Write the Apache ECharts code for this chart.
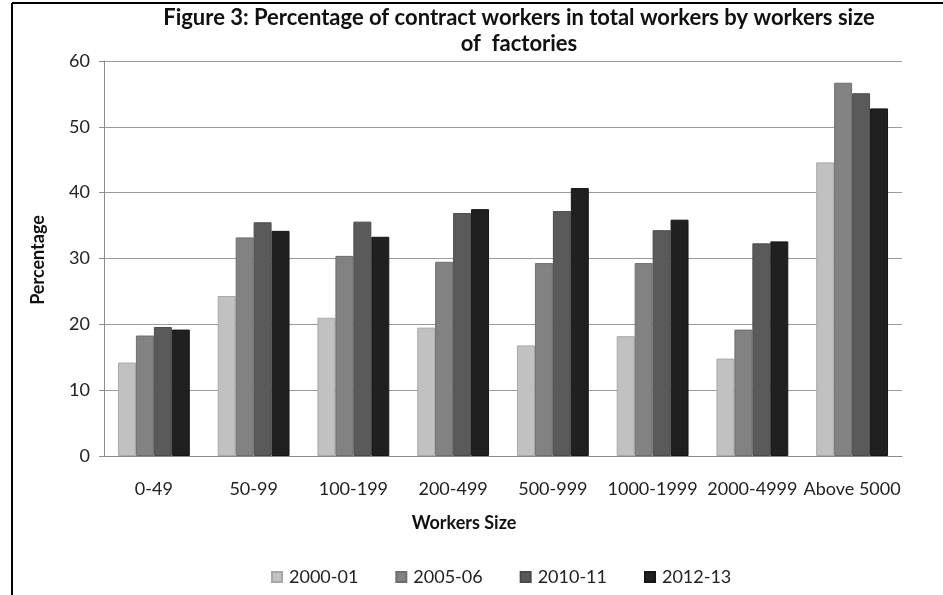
<!DOCTYPE html>
<html>
<head>
<meta charset="utf-8">
<script src="https://cdn.jsdelivr.net/npm/echarts@6/dist/echarts.min.js"></script>
<style>
html,body{margin:0;padding:0;background:#fff;}
#chart{width:943px;height:595px;}
</style>
</head>
<body>
<div id="chart"></div>
<script>
const categories = ['0-49','50-99','100-199','200-499','500-999','1000-1999','2000-4999','Above 5000'];
const seriesNames = ['2000-01','2005-06','2010-11','2012-13'];
const s2000_01 = [14.2, 24.3, 21.0, 19.5, 16.8, 18.2, 14.8, 44.6];
const s2005_06 = [18.3, 33.2, 30.4, 29.5, 29.3, 29.3, 19.2, 56.7];
const s2010_11 = [19.6, 35.5, 35.6, 36.9, 37.2, 34.3, 32.3, 55.1];
const s2012_13 = [19.2, 34.2, 33.3, 37.5, 40.7, 35.9, 32.6, 52.8];
const yTicks = [0, 10, 20, 30, 40, 50, 60];

const colors = ['#c1c1c1', '#828282', '#5a5a5a', '#202020'];
const borders = ['#a8a8a8', '#6e6e6e', '#4a4a4a', '#151515'];
const FONT = 'Lato';
const allData = [s2000_01, s2005_06, s2010_11, s2012_13];

const chart = echarts.init(document.getElementById('chart'), null, {renderer: 'canvas'});
chart.setOption({
  backgroundColor: '#fff',
  animation: false,
  color: colors,
  textStyle: {fontFamily: FONT, color: '#222'},
  grid: {left: 104, right: 41, top: 61, bottom: 139, containLabel: false},
  legend: {
    data: seriesNames,
    left: 266, top: 563,
    icon: 'rect', itemWidth: 10, itemHeight: 10, itemGap: 37,
    textStyle: {fontFamily: FONT, fontSize: 18, color: '#222', padding: [0,0,0,2]}
  },
  xAxis: {
    type: 'category',
    data: categories,
    axisLine: {lineStyle: {color: '#8c8c8c', width: 1}},
    axisTick: {show: false},
    axisLabel: {fontFamily: FONT, fontSize: 18, color: '#222', margin: 24, interval: 0}
  },
  yAxis: {
    type: 'value',
    min: yTicks[0], max: yTicks[yTicks.length-1], interval: 10,
    axisLine: {show: true, lineStyle: {color: '#8c8c8c', width: 1}},
    axisTick: {show: true, inside: false, length: 5, lineStyle: {color: '#8c8c8c'}},
    splitLine: {lineStyle: {color: '#9a9a9a', width: 1}},
    axisLabel: {fontFamily: FONT, fontSize: 18, color: '#222', margin: 14}
  },
  series: seriesNames.map((n, i) => ({
    name: n,
    type: 'bar',
    data: allData[i],
    barGap: '0%',
    barCategoryGap: '28%',
    itemStyle: {color: colors[i], borderColor: borders[i], borderWidth: 1}
  })),
  graphic: [
    {type: 'line', shape: {x1: 12, y1: 3, x2: 943, y2: 3}, style: {stroke: '#000', lineWidth: 2}},
    {type: 'line', shape: {x1: 12, y1: 3, x2: 12, y2: 595}, style: {stroke: '#000', lineWidth: 2}},
    {type: 'text', x: 519, y: 18, style: {text: 'Figure 3: Percentage of contract workers in total workers by workers size', fontFamily: FONT, fontWeight: 'bold', fontSize: 22, fill: '#111', textAlign: 'center', textVerticalAlign: 'middle'}},
    {type: 'text', x: 519, y: 44, style: {text: 'of  factories', fontFamily: FONT, fontWeight: 'bold', fontSize: 22, fill: '#111', textAlign: 'center', textVerticalAlign: 'middle'}},
    {type: 'text', x: 464, y: 523, style: {text: 'Workers Size', fontFamily: FONT, fontWeight: 'bold', fontSize: 18, fill: '#111', textAlign: 'center', textVerticalAlign: 'middle'}},
    {type: 'text', x: 38, y: 260, rotation: Math.PI/2, style: {text: 'Percentage', fontFamily: FONT, fontWeight: 'bold', fontSize: 18, fill: '#111', textAlign: 'center', textVerticalAlign: 'middle'}}
  ]
});
</script>
</body>
</html>
